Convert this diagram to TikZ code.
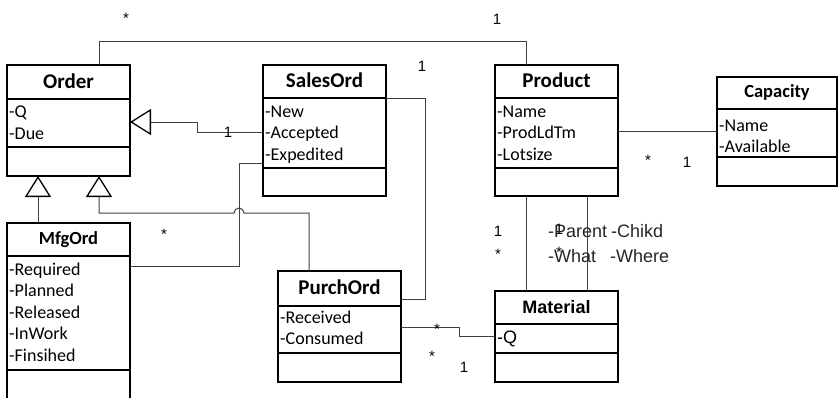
\documentclass[tikz,border=0pt]{standalone}
\usepackage{fontspec}
\setmainfont{Carlito}
\newfontfamily\arialf{Liberation Sans}
\usetikzlibrary{calc,arrows.meta}
\tikzset{
  cls/.style={draw, line width=1.5pt, inner sep=0pt, outer sep=0pt, anchor=north west},
  divl/.style={line width=1.5pt},
  ctitle/.style={font=\bfseries\fontsize{21}{25}\selectfont, anchor=base, inner sep=0pt},
  stitle/.style={font=\bfseries\fontsize{18.5}{22}\selectfont, anchor=base, inner sep=0pt},
  atitle/.style={font=\arialf\bfseries\fontsize{18}{22}\selectfont, anchor=base, inner sep=0pt},
  attr/.style={font=\fontsize{18}{21}\selectfont, anchor=base west, inner sep=0pt},
  aattr/.style={font=\arialf\fontsize{18}{21}\selectfont, anchor=base west, inner sep=0pt},
  mult/.style={font=\arialf\fontsize{15}{18}\selectfont, inner sep=0pt},
  role/.style={font=\arialf\fontsize{18}{21}\selectfont, text=black!85, anchor=base west, inner sep=0pt},
  conn/.style={draw=black!75, line width=1pt},
  gen/.style={conn, -{Triangle[open, length=21pt, width=26pt, line width=1.3pt, color=black]}},
}
\newcommand\attrlist[4]{\foreach \t [count=\i] in {#4}{\node[#2] (#1-a\i) at ($(#1.north west)+(2,{#3+(\i-1)*21.5})$) {\t};}}
\begin{document}
\begin{tikzpicture}[x=1pt,y=-1pt]
\useasboundingbox (0,0) rectangle (838,397);
% classes
\node[cls, minimum width=123pt, minimum height=111pt] (order) at (7,65) {};
\draw[divl] ($(order.north west)+(0,34)$) -- ($(order.north east)+(0,34)$);
\draw[divl] ($(order.north west)+(0,82)$) -- ($(order.north east)+(0,82)$);
\node[ctitle] (order-t) at ($(order.north)+(0,23)$) {Order};
\attrlist{order}{attr}{52.5}{-Q,-Due}

\node[cls, minimum width=123pt, minimum height=131pt] (salesord) at (263,65) {};
\draw[divl] ($(salesord.north west)+(0,33)$) -- ($(salesord.north east)+(0,33)$);
\draw[divl] ($(salesord.north west)+(0,103)$) -- ($(salesord.north east)+(0,103)$);
\node[ctitle] (salesord-t) at ($(salesord.north)+(0,22.5)$) {SalesOrd};
\attrlist{salesord}{attr}{52}{-New,-Accepted,-Expedited}

\node[cls, minimum width=123pt, minimum height=131pt] (product) at (495,65) {};
\draw[divl] ($(product.north west)+(0,33)$) -- ($(product.north east)+(0,33)$);
\draw[divl] ($(product.north west)+(0,103)$) -- ($(product.north east)+(0,103)$);
\node[ctitle] (product-t) at ($(product.north)+(0,22.5)$) {Product};
\attrlist{product}{attr}{52}{-Name,-ProdLdTm,-Lotsize}

\node[cls, minimum width=120pt, minimum height=109pt] (capacity) at (717,77) {};
\draw[divl] ($(capacity.north west)+(0,32)$) -- ($(capacity.north east)+(0,32)$);
\draw[divl] ($(capacity.north west)+(0,80)$) -- ($(capacity.north east)+(0,80)$);
\node[stitle] (capacity-t) at ($(capacity.north)+(0,20.5)$) {Capacity};
\attrlist{capacity}{attr}{54}{-Name,-Available}

\node[cls, minimum width=123pt, minimum height=190pt] (mfgord) at (7,223) {};
\draw[divl] ($(mfgord.north west)+(0,33)$) -- ($(mfgord.north east)+(0,33)$);
\draw[divl] ($(mfgord.north west)+(0,147)$) -- ($(mfgord.north east)+(0,147)$);
\node[stitle] (mfgord-t) at ($(mfgord.north)+(0,21)$) {MfgOrd};
\attrlist{mfgord}{attr}{52}{-Required,-Planned,-Released,-InWork,-Finsihed}

\node[cls, minimum width=123pt, minimum height=111pt] (purchord) at (278,271) {};
\draw[divl] ($(purchord.north west)+(0,35)$) -- ($(purchord.north east)+(0,35)$);
\draw[divl] ($(purchord.north west)+(0,82)$) -- ($(purchord.north east)+(0,82)$);
\node[ctitle] (purchord-t) at ($(purchord.north)+(0,23)$) {PurchOrd};
\attrlist{purchord}{attr}{52}{-Received,-Consumed}

\node[cls, minimum width=123pt, minimum height=91pt] (material) at (495,291) {};
\draw[divl] ($(material.north west)+(0,33)$) -- ($(material.north east)+(0,33)$);
\draw[divl] ($(material.north west)+(0,62)$) -- ($(material.north east)+(0,62)$);
\node[atitle] (material-t) at ($(material.north)+(0,22)$) {Material};
\attrlist{material}{aattr}{52}{-Q}

% connectors
\draw[conn] ($(order.north west)+(92,0)$) -- ++(0,-24) -| ($(product.north west)+(31,0)$);
\draw[gen] ($(salesord.north west)+(0,67)$) -- ++(-66,0) -- ++(0,-10) -- ($(order.north east)+(0,57)$);
\draw[conn] ($(salesord.north east)+(0,33)$) -- ++(39,0) |- ($(purchord.north east)+(0,28)$);
\draw[conn] ($(salesord.north west)+(0,98)$) -- ++(-24,0) |- ($(mfgord.north east)+(0,43)$);
\draw[gen] ($(mfgord.north west)+(31,0)$) -- ($(order.south west)+(31,0)$);
\draw[gen] ($(purchord.north west)+(31,0)$) -- ++(0,-58) -- ++(-65,0)
   arc[start angle=0, end angle=180, radius=5pt] -| ($(order.south west)+(92,0)$);
\draw[conn] ($(purchord.north east)+(0,56)$) -- ++(58,0) -- ++(0,9) -- ($(material.north west)+(0,45)$);
\draw[conn] ($(product.south west)+(31,0)$) -- ($(material.north west)+(31,0)$);
\draw[conn] ($(product.south west)+(92,0)$) -- ($(material.north west)+(92,0)$);
\draw[conn] ($(product.north east)+(0,66)$) -- ($(capacity.north west)+(0,54)$);

% multiplicities
\node[mult] (m1) at (126,18) {*};
\node[mult] (m2) at (497,19.5) {1};
\node[mult] (m3) at (422,66.5) {1};
\node[mult] (m4) at (228,132) {1};
\node[mult] (m5) at (164,234) {*};
\node[mult] (m6) at (498,231) {1};
\node[mult] (m7) at (498,254) {*};
\node[mult] (m8) at (559,229) {1};
\node[mult] (m9) at (559,252) {*};
\node[mult] (m10) at (437,329) {*};
\node[mult] (m11) at (432,356) {*};
\node[mult] (m12) at (464,367) {1};
\node[mult] (m13) at (648,160) {*};
\node[mult] (m14) at (687,162) {1};
% roles
\node[role] (r1) at (548,237) {-Parent};
\node[role] (r2) at (611,237) {-Chikd};
\node[role] (r3) at (548,262) {-What};
\node[role] (r4) at (610,262) {-Where};
\end{tikzpicture}
\end{document}
